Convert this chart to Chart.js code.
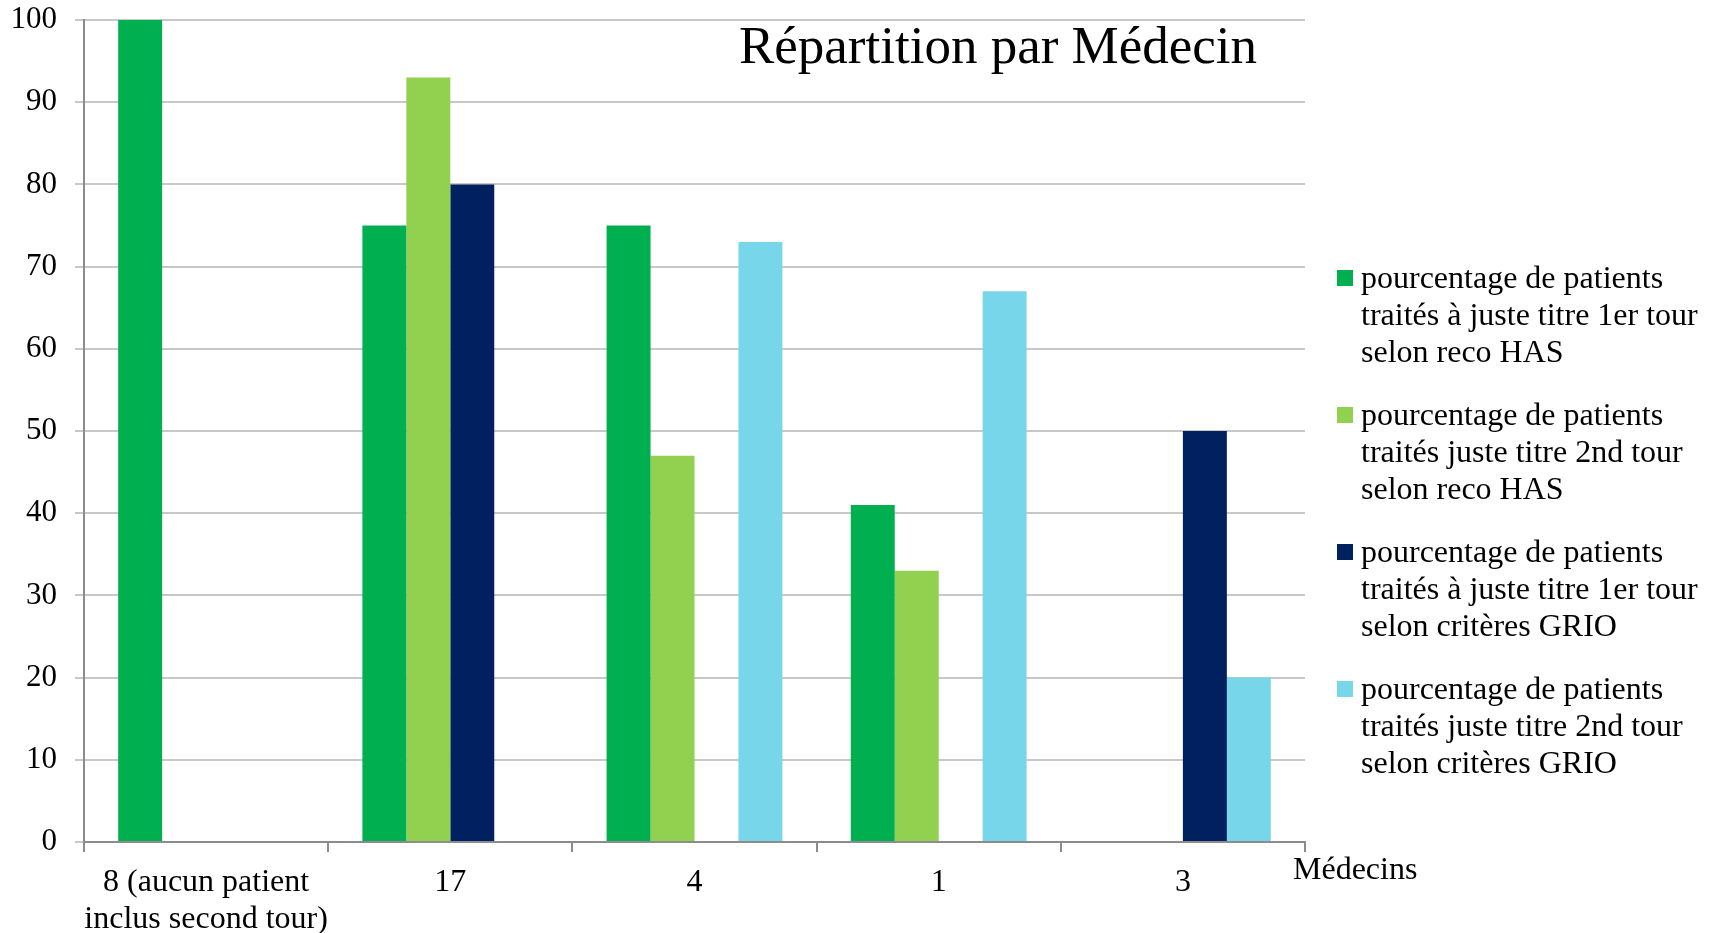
<!DOCTYPE html>
<html>
<head>
<meta charset="utf-8">
<script src="https://cdn.jsdelivr.net/npm/chart.js@4.4.0/dist/chart.umd.min.js"></script>
<style>
html, body { margin: 0; padding: 0; background: #fff; }
#wrap { width: 1714px; height: 933px; }
</style>
</head>
<body>
<div id="wrap"><canvas id="container" width="1714" height="933"></canvas></div>
<script>
// données
const categories = [["8 (aucun patient", "inclus second tour)"], "17", "4", "1", "3"];
const seriesNames = [
    "pourcentage de patients traités à juste titre 1er tour selon reco HAS",
    "pourcentage de patients traités juste titre 2nd tour selon reco HAS",
    "pourcentage de patients traités à juste titre 1er tour selon critères GRIO",
    "pourcentage de patients traités juste titre 2nd tour selon critères GRIO"
];
const hasTour1 = [100, 75, 75, 41, null];
const hasTour2 = [null, 93, 47, 33, null];
const grioTour1 = [null, 80, null, null, 50];
const grioTour2 = [null, null, 73, 67, 20];
const colors = ['#00B050', '#92D050', '#002060', '#78D6EB'];

const FONT = '"Liberation Serif", "Times New Roman", serif';
const ctx = document.getElementById('container').getContext('2d');

/**
 * découpe un libellé en lignes d'une largeur maximale
 */
function wrapText(c, text, maxWidth) {
    const words = text.split(' ');
    const lines = [];
    let line = '';
    words.forEach(function(w) {
        const test = line ? line + ' ' + w : w;
        if (c.measureText(test).width > maxWidth && line) {
            lines.push(line);
            line = w;
        } else {
            line = test;
        }
    });
    if (line) lines.push(line);
    return lines;
}

// titre, nom de l'axe et légende dessinés par-dessus le graphique
const overlay = {
    id: 'overlay',
    afterDraw(chart) {
        const c = chart.ctx;
        const area = chart.chartArea;
        c.save();
        c.fillStyle = '#000';
        c.font = '53px ' + FONT;
        c.textAlign = 'right';
        c.textBaseline = 'alphabetic';
        c.fillText('Répartition par Médecin', area.right - 48, area.top + 43);

        c.font = '32px ' + FONT;
        c.textAlign = 'left';
        c.textBaseline = 'middle';
        c.fillText('Médecins', area.right - 12, area.bottom + 29);

        chart.data.datasets.forEach(function(ds, i) {
            const y0 = 280 + i * 137;
            c.fillStyle = ds.backgroundColor;
            c.fillRect(area.right + 32, y0 - 10, 16, 16);
            c.fillStyle = '#000';
            wrapText(c, ds.label, 350).forEach(function(line, j) {
                c.fillText(line, area.right + 56, y0 + j * 37);
            });
        });
        c.restore();
    }
};

const datasets = [hasTour1, hasTour2, grioTour1, grioTour2].map(function(values, i) {
    return {
        label: seriesNames[i],
        data: values,
        backgroundColor: colors[i],
        borderWidth: 0,
        categoryPercentage: 0.72,
        barPercentage: 1.0
    };
});

const chart = new Chart(ctx, {
    type: 'bar',
    data: { labels: categories, datasets: datasets },
    plugins: [overlay],
    options: {
        responsive: false,
        animation: false,
        layout: { padding: { top: 20, right: 409, bottom: 0, left: 0 } },
        plugins: {
            legend: { display: false },
            tooltip: { enabled: false }
        },
        scales: {
            x: {
                afterFit: function(scale) { scale.height = 91; },
                grid: {
                    offset: true,
                    drawOnChartArea: false,
                    tickLength: 10,
                    color: '#8C8C8C',
                    lineWidth: 2
                },
                border: { color: '#8C8C8C', width: 2 },
                ticks: {
                    color: '#000',
                    font: { family: FONT, size: 32, lineHeight: 1.15 },
                    padding: 12,
                    maxRotation: 0,
                    autoSkip: false
                }
            },
            y: {
                min: 0,
                max: 100,
                afterFit: function(scale) {
                    scale.width = 84;
                    scale.paddingTop = 0;
                    scale.paddingBottom = 0;
                },
                grid: {
                    color: '#C8C8C8',
                    lineWidth: 2,
                    tickLength: 9
                },
                border: { color: '#8C8C8C', width: 2 },
                ticks: {
                    stepSize: 10,
                    color: '#000',
                    font: { family: FONT, size: 31 },
                    padding: 18
                }
            }
        }
    }
});
</script>
</body>
</html>
